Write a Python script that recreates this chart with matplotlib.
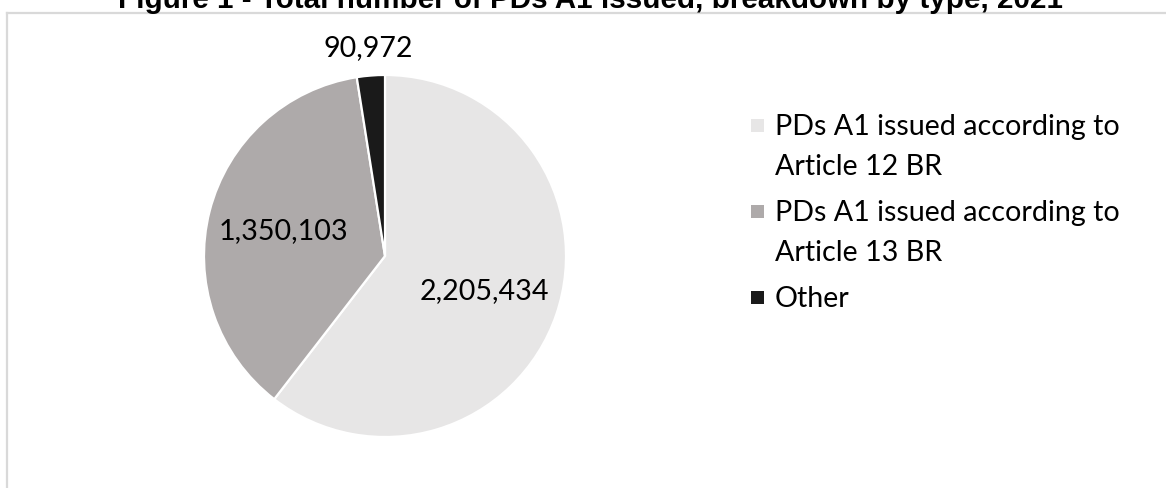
import matplotlib
matplotlib.use("Agg")
import matplotlib.pyplot as plt
from matplotlib.lines import Line2D
from matplotlib.patches import Rectangle
import numpy as np

# Data
categories = [
    "PDs A1 issued according to\nArticle 12 BR",
    "PDs A1 issued according to\nArticle 13 BR",
    "Other",
]
values = [2205434, 1350103, 90972]
colors = ["#e7e6e6", "#aeaaaa", "#1a1a1a"]
title = "Figure 1 - Total number of PDs A1 issued, breakdown by type, 2021"

W, H = 1166, 489
DPI = 100
fig = plt.figure(figsize=(W / DPI, H / DPI), dpi=DPI)
fig.patch.set_facecolor("white")

label_font = "Lato"
fs = 20.6


def fx(px):
    return px / W


def fy(py):
    return 1 - py / H


# Chart-area frame (top and left edges)
frame_col = "#d9d9d9"
fig.add_artist(Line2D([fx(7), 1.0], [fy(13.5), fy(13.5)], color=frame_col, lw=1.6))
fig.add_artist(Line2D([fx(7), fx(7)], [fy(13.5), 0.0], color=frame_col, lw=1.6))

# Title
fig.text(fx(590), fy(8.5), title, ha="center", va="baseline",
         fontsize=21.3, fontweight="bold", family="Liberation Sans", color="#000000")

# Pie axes: square box in pixels
cx, cy, r = 385, 257, 181
ax = fig.add_axes([fx(cx - r), fy(cy + r), (2 * r) / W, (2 * r) / H])
ax.axis("off")

wedges, _ = ax.pie(values, colors=colors, startangle=90, counterclock=False,
                   radius=1.0, wedgeprops=dict(edgecolor="white", linewidth=1.6))
ax.set_xlim(-1, 1)
ax.set_ylim(-1, 1)
ax.set_aspect("auto")

# Value labels
label_r = [0.58, 0.58, 1.16]
for w, v, lr in zip(wedges, values, label_r):
    mid = np.deg2rad((w.theta1 + w.theta2) / 2)
    ax.text(lr * np.cos(mid), lr * np.sin(mid), f"{v:,}", ha="center", va="center",
            fontsize=fs, family=label_font, color="#000000", clip_on=False)

# Legend
sq = 13
x_sq = 751
x_txt = 775
line_gap = 40
entry_gap = 46
base = 135
for cat, col in zip(categories, colors):
    lines = cat.split("\n")
    fig.add_artist(Rectangle((fx(x_sq), fy(base - 2)), sq / W, sq / H,
                             facecolor=col, edgecolor="none",
                             transform=fig.transFigure))
    for i, ln in enumerate(lines):
        fig.text(fx(x_txt), fy(base + i * line_gap), ln, ha="left", va="baseline",
                 fontsize=fs, family=label_font, color="#000000")
    base += (len(lines) - 1) * line_gap + entry_gap

fig.savefig("out.png", dpi=DPI)
